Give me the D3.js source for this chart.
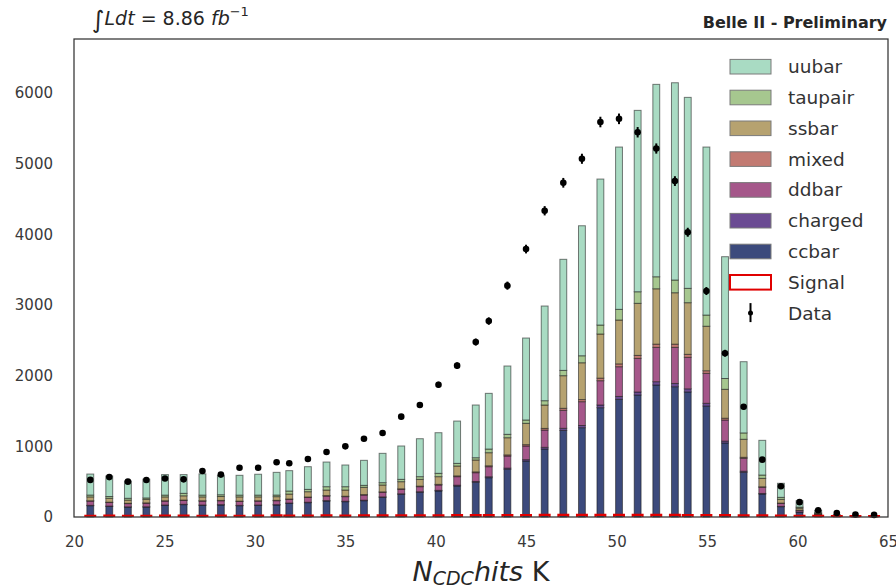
<!DOCTYPE html>
<html>
<head>
<meta charset="utf-8">
<script src="https://cdn.jsdelivr.net/npm/d3@7"></script>
<style>
  html, body { margin: 0; padding: 0; background: #ffffff; }
  svg { display: block; font-family: "DejaVu Sans", sans-serif; }
</style>
</head>
<body>
<svg id="chart" width="896" height="588"></svg>
<script>
// Bin centres of the N_CDC hits distribution (in K)
const binCenters = [
  20.90, 21.95, 22.98, 24.00, 25.03, 26.06, 27.10, 28.12, 29.15, 30.18, 31.20,
  31.90, 32.93, 33.96, 35.00, 36.03, 37.06, 38.09, 39.12, 40.15, 41.18, 42.21,
  42.93, 43.96, 44.99, 46.02, 47.05, 48.08, 49.10, 50.13, 51.16, 52.19, 53.22,
  53.93, 54.96, 55.99, 57.02, 58.05, 59.08, 60.11, 61.14, 62.17, 63.20, 64.23
];

// Simulated background components, stacked bottom to top
const ccbar = [
  160, 150, 140, 140, 165, 175, 165, 170, 160, 165, 170,
  193, 203, 226, 217, 231, 278, 321, 349, 368, 439, 491,
  556, 675, 792, 962, 1225, 1264, 1547, 1665, 1726, 1868, 1844,
  1770, 1570, 1048, 632, 325, 146, 70, 30, 11, 6, 5
];
const charged = [
  5, 5, 4, 5, 5, 5, 5, 5, 5, 5, 5,
  5, 6, 6, 6, 7, 7, 8, 9, 9, 11, 12,
  14, 17, 20, 24, 30, 31, 38, 41, 43, 47, 46,
  44, 39, 26, 16, 8, 4, 2, 1, 0, 0, 0
];
const ddbar = [
  60, 50, 46, 50, 55, 55, 55, 55, 55, 55, 56,
  52, 69, 65, 65, 73, 64, 62, 71, 76, 121, 124,
  142, 171, 193, 245, 255, 337, 344, 421, 476, 486, 511,
  446, 424, 299, 182, 87, 43, 23, 9, 4, 2, 2
];
const mixed = [
  5, 5, 4, 5, 5, 5, 5, 5, 5, 5, 5,
  5, 5, 6, 6, 6, 7, 8, 8, 9, 11, 12,
  13, 16, 19, 23, 28, 30, 36, 40, 42, 45, 45,
  42, 37, 25, 15, 8, 4, 2, 1, 0, 0, 0
];
const ssbar = [
  55, 55, 46, 50, 55, 60, 55, 55, 60, 55, 52,
  70, 75, 79, 88, 103, 97, 101, 96, 109, 140, 168,
  185, 243, 302, 331, 462, 521, 625, 621, 737, 784, 728,
  731, 630, 409, 255, 119, 53, 28, 11, 5, 3, 2
];
const taupair = [
  26, 25, 25, 20, 25, 35, 25, 25, 25, 25, 23,
  43, 33, 47, 47, 28, 33, 33, 38, 47, 37, 32,
  52, 48, 47, 61, 75, 99, 127, 151, 164, 170, 180,
  203, 158, 153, 90, 47, 28, 15, 8, 3, 2, 1
];
const uubar = [
  297, 290, 245, 265, 290, 265, 300, 275, 280, 295, 321,
  288, 321, 349, 307, 354, 415, 472, 537, 575, 599, 746,
  788, 967, 1160, 1340, 1572, 1840, 2066, 2297, 2567, 2723, 2792,
  2703, 2378, 1724, 1008, 491, 199, 90, 35, 12, 7, 5
];

// Signal component (drawn as an outline)
const signal = [
  18, 20, 16, 18, 20, 20, 18, 20, 18, 20, 22,
  20, 20, 22, 20, 22, 22, 24, 22, 24, 26, 26,
  26, 28, 28, 30, 30, 30, 30, 30, 30, 30, 30,
  28, 28, 26, 24, 22, 20, 18, 16, 14, 12, 12
];

// Recorded data counts
const dataCounts = [
  525, 565, 500, 524, 545, 533, 650, 600, 698, 698, 775,
  760, 821, 920, 1000, 1108, 1189, 1420, 1585, 1872, 2142, 2476,
  2773, 3274, 3792, 4334, 4730, 5070, 5590, 5635, 5445, 5215, 4754,
  4030, 3198, 2318, 1560, 812, 435, 210, 95, 55, 35, 30
];

const seriesKeys = ["ccbar", "charged", "ddbar", "mixed", "ssbar", "taupair", "uubar"];
const seriesColors = {
  ccbar:   "#3c4a7c",
  charged: "#6b4b93",
  ddbar:   "#a5578a",
  mixed:   "#c27a72",
  ssbar:   "#b6a270",
  taupair: "#a6c78f",
  uubar:   "#a9dbc3"
};
const legendOrder = ["uubar", "taupair", "ssbar", "mixed", "ddbar", "charged", "ccbar"];

const xTicks = [20, 25, 30, 35, 40, 45, 50, 55, 60, 65];
const yTicks = [0, 1000, 2000, 3000, 4000, 5000, 6000];

const rows = binCenters.map((c, i) => ({
  center: c,
  ccbar: ccbar[i], charged: charged[i], ddbar: ddbar[i], mixed: mixed[i],
  ssbar: ssbar[i], taupair: taupair[i], uubar: uubar[i]
}));

const svg = d3.select("#chart");
const plot = { left: 74, right: 888, top: 39, bottom: 517 };

const x = d3.scaleLinear().domain([20, 65]).range([plot.left, plot.right]);
const y = d3.scaleLinear().domain([0, 6765]).range([plot.bottom, plot.top]);

const barW = 0.38; // in x units
const stacked = d3.stack().keys(seriesKeys)(rows);

// stacked background histogram
const layers = svg.append("g").attr("class", "stack");
stacked.forEach(layer => {
  layers.append("g")
    .attr("fill", seriesColors[layer.key])
    .selectAll("rect")
    .data(layer)
    .join("rect")
      .attr("x", d => x(d.data.center - barW / 2))
      .attr("width", d => x(d.data.center + barW / 2) - x(d.data.center - barW / 2))
      .attr("y", d => y(d[1]))
      .attr("height", d => Math.max(0, y(d[0]) - y(d[1])))
      .attr("stroke", "rgba(20,20,20,0.55)")
      .attr("stroke-width", 1);
});

// signal outline
const sigW = 0.27;
const sigPath = binCenters.map((c, i) =>
  `M${x(c - sigW)},${y(0)}V${y(signal[i])}H${x(c + sigW)}V${y(0)}`).join("");
svg.append("path")
  .attr("d", sigPath)
  .attr("fill", "none")
  .attr("stroke", "#e00000")
  .attr("stroke-width", 2.2);

// data points with Poisson error bars
const pts = svg.append("g").attr("class", "data");
pts.selectAll("line")
  .data(dataCounts)
  .join("line")
    .attr("x1", (d, i) => x(binCenters[i]))
    .attr("x2", (d, i) => x(binCenters[i]))
    .attr("y1", d => y(d + Math.sqrt(d)))
    .attr("y2", d => y(Math.max(0, d - Math.sqrt(d))))
    .attr("stroke", "#000")
    .attr("stroke-width", 2);
pts.selectAll("circle")
  .data(dataCounts)
  .join("circle")
    .attr("cx", (d, i) => x(binCenters[i]))
    .attr("cy", d => y(d))
    .attr("r", 3.3)
    .attr("fill", "#000");

// frame
svg.append("rect")
  .attr("x", plot.left).attr("y", plot.top)
  .attr("width", plot.right - plot.left).attr("height", plot.bottom - plot.top)
  .attr("fill", "none").attr("stroke", "#333").attr("stroke-width", 1.25);

// axes
const yAxis = svg.append("g")
  .attr("transform", `translate(${plot.left},0)`)
  .call(d3.axisLeft(y).tickValues(yTicks).tickSize(0).tickPadding(21).tickFormat(d3.format("d")));
const xAxis = svg.append("g")
  .attr("transform", `translate(0,${plot.bottom})`)
  .call(d3.axisBottom(x).tickValues(xTicks).tickSize(0).tickPadding(19).tickFormat(d3.format("d")));
[yAxis, xAxis].forEach(a => {
  a.select(".domain").remove();
  a.selectAll("text")
    .attr("font-family", "DejaVu Sans, sans-serif")
    .attr("font-size", 15)
    .attr("fill", "#3a3a3a");
});

// x-axis title
const xt = svg.append("text")
  .attr("x", 481).attr("y", 581)
  .attr("text-anchor", "middle")
  .attr("font-size", 27)
  .attr("fill", "#262626");
xt.append("tspan").attr("font-style", "italic").text("N");
xt.append("tspan").attr("font-style", "italic").attr("font-size", 19).attr("dy", 4).text("CDC");
xt.append("tspan").attr("font-style", "italic").attr("dy", -4).text("hits");
xt.append("tspan").text(" K");

// luminosity label
const lum = svg.append("text")
  .attr("x", 92).attr("y", 25)
  .attr("font-size", 19)
  .attr("fill", "#262626");
lum.append("tspan").attr("font-size", 24).attr("dy", 3).text("\u222B");
lum.append("tspan").attr("font-style", "italic").attr("dy", -3).text("Ldt");
lum.append("tspan").text(" = 8.86 ");
lum.append("tspan").attr("font-style", "italic").text("fb");
lum.append("tspan").attr("font-size", 13).attr("dy", -9).text("\u22121");

// experiment label
svg.append("text")
  .attr("x", 887).attr("y", 28)
  .attr("text-anchor", "end")
  .attr("font-size", 16)
  .attr("font-weight", "bold")
  .attr("fill", "#262626")
  .text("Belle II - Preliminary");

// legend
const legend = svg.append("g").attr("class", "legend");
const rowY = i => 66.7 + 30.8 * i;
legendOrder.forEach((k, i) => {
  legend.append("rect")
    .attr("x", 730).attr("y", rowY(i) - 7.3)
    .attr("width", 41).attr("height", 14.6)
    .attr("fill", seriesColors[k])
    .attr("stroke", "#7a7a7a").attr("stroke-width", 1);
  legend.append("text")
    .attr("x", 788).attr("y", rowY(i) + 6.5)
    .attr("font-size", 18.5).attr("fill", "#333")
    .text(k);
});
legend.append("rect")
  .attr("x", 730).attr("y", rowY(7) - 7.3)
  .attr("width", 41).attr("height", 14.6)
  .attr("fill", "#fff").attr("stroke", "#e00000").attr("stroke-width", 2);
legend.append("text")
  .attr("x", 788).attr("y", rowY(7) + 6.5)
  .attr("font-size", 18.5).attr("fill", "#333").text("Signal");
legend.append("line")
  .attr("x1", 750.5).attr("x2", 750.5)
  .attr("y1", rowY(8) - 10).attr("y2", rowY(8) + 9)
  .attr("stroke", "#000").attr("stroke-width", 2);
legend.append("circle")
  .attr("cx", 750.5).attr("cy", rowY(8)).attr("r", 2.5).attr("fill", "#000");
legend.append("text")
  .attr("x", 788).attr("y", rowY(8) + 6.5)
  .attr("font-size", 18.5).attr("fill", "#333").text("Data");
</script>
</body>
</html>
